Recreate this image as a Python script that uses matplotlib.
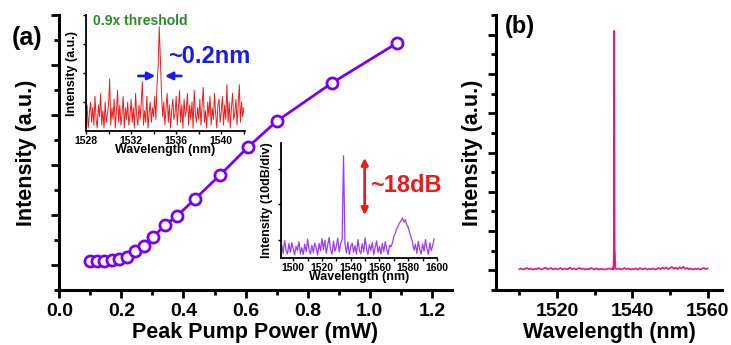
import numpy as np
import matplotlib
matplotlib.use("Agg")
import matplotlib.pyplot as plt
from matplotlib.ticker import MultipleLocator, NullFormatter

plt.rcParams['font.family'] = ['Liberation Sans', 'DejaVu Sans']
plt.rcParams['font.weight'] = 'bold'
plt.rcParams['axes.labelweight'] = 'bold'

# --- (a) main: output intensity vs peak pump power ---
pump_mw = [0.099, 0.121, 0.144, 0.170, 0.192, 0.218, 0.244, 0.273, 0.302,
           0.341, 0.379, 0.437, 0.518, 0.608, 0.701, 0.878, 1.088]
out_int = [1.17, 1.16, 1.16, 1.20, 1.24, 1.32, 1.56, 1.76, 2.12,
           2.60, 2.96, 3.64, 4.60, 5.72, 6.76, 8.28, 9.88]

# --- inset 1: spectrum below threshold (0.1 nm grid from 1528 nm) ---
sub_start, sub_step = 1528.0, 0.1
sub_int = [
    0.2, 0.9, 0.1, 0.6, 1.0, 0.3, 0.8, 0.2, 1.2, 0.4, 0.1, 0.9, 0.5, 1.3, 0.2, 0.7, 0.1, 1.0, 0.3, 0.6,
    0.9, 1.8, 0.2, 0.8, 0.4, 1.1, 0.1, 0.7, 1.4, 0.3, 0.9, 0.2, 0.6, 1.2, 0.1, 0.8, 0.4, 1.0, 0.2, 0.5,
    1.1, 0.3, 0.8, 0.1, 1.3, 0.5, 0.2, 0.9, 0.4, 1.0, 1.7, 0.2, 0.7, 0.3, 1.2, 0.1, 0.6, 1.0, 0.3, 0.8,
    0.5, 1.2, 0.4, 1.6, 2.2, 3.6, 2.4, 1.3, 0.5, 1.0, 0.2, 0.8, 1.3, 0.3, 0.9, 0.1, 0.7, 1.1, 0.4, 0.6,
    1.2, 0.2, 0.8, 1.4, 0.3, 0.9, 0.1, 1.1, 0.5, 0.7, 1.3, 0.2, 0.9, 0.4, 1.0, 0.1, 1.4, 0.6, 0.3, 0.8,
    0.4, 1.1, 0.2, 0.9, 1.5, 0.3, 0.7, 0.1, 1.0, 0.5, 1.2, 0.2, 0.8, 0.4, 1.3, 0.6, 0.1, 0.9, 1.1, 0.3,
    0.7, 1.2, 0.2, 0.9, 0.4, 1.6, 0.3, 1.0, 0.1, 0.8, 1.3, 0.4, 0.6, 1.1, 0.2, 0.9, 1.6, 0.3, 1.0, 0.5,
    0.8]

# --- inset 2: spectrum above threshold, dB (1 nm grid from 1492 nm) ---
las_start, las_step = 1492.0, 1.0
las_db = [
    -61.5, -63.8, -60.2, -62.9, -64.0, -61.0, -63.5, -60.8, -62.6, -64.2,
    -61.8, -63.0, -60.5, -63.9, -62.2, -64.1, -61.2, -63.3, -59.8, -62.8,
    -64.0, -61.5, -63.6, -60.9, -62.4, -64.3, -61.0, -63.1, -59.6, -62.7,
    -60.1, -63.8, -61.4, -59.3, -62.9, -64.0, -60.4, -63.2, -61.7, -59.5,
    -63.4, -61.0, -60.0, -36.3, -61.2, -63.7, -60.6, -64.1, -62.0, -60.9,
    -63.5, -61.6, -64.0, -59.9, -62.8, -63.9, -61.1, -63.4, -59.4, -62.5,
    -64.1, -61.3, -63.0, -60.7, -64.2, -62.1, -60.3, -63.6, -61.8, -64.0,
    -61.0, -63.3, -60.5, -62.6, -64.1, -61.5, -62.0, -60.8, -59.0, -58.2,
    -56.9, -56.0, -55.2, -54.6, -53.8, -55.0, -54.3, -55.8, -56.5, -58.0,
    -59.3, -60.6, -62.9, -61.2, -63.8, -60.4, -62.7, -64.0, -61.1, -63.2,
    -59.9, -62.4, -64.1, -60.8, -63.0, -61.6, -59.7]

# --- (b): single-mode lasing spectrum ---
b_start, b_step = 1510.0, 0.5
b_base = [
    0.03, 0.05, 0.02, 0.04, 0.06, 0.03, 0.05, 0.02, 0.04, 0.03,
    0.06, 0.04, 0.02, 0.05, 0.07, 0.03, 0.04, 0.06, 0.02, 0.05,
    0.03, 0.04, 0.06, 0.02, 0.05, 0.03, 0.04, 0.07, 0.03, 0.05,
    0.02, 0.04, 0.06, 0.03, 0.05, 0.02, 0.04, 0.03, 0.06, 0.04,
    0.03, 0.05, 0.02, 0.04, 0.03, 0.03, 0.02, 0.04, 0.05, 0.03,
    0.02, 0.06, 0.03, 0.05, 0.02, 0.04, 0.06, 0.03, 0.05, 0.02,
    0.04, 0.03, 0.05, 0.02, 0.06, 0.03, 0.04, 0.05, 0.02, 0.04,
    0.03, 0.05, 0.02, 0.04, 0.06, 0.03, 0.07, 0.04, 0.08, 0.03,
    0.06, 0.09, 0.04, 0.07, 0.03, 0.08, 0.05, 0.09, 0.04, 0.06,
    0.03, 0.05, 0.02, 0.04, 0.03, 0.05, 0.02, 0.04, 0.06, 0.03,
    0.05]
b_peak_wl = [1534.9, 1535.1, 1535.2, 1535.3, 1535.5]
b_peak_int = [0.08, 0.70, 6.10, 0.60, 0.05]

violet = '#7a00f5'

fig = plt.figure(figsize=(7.31, 3.45), dpi=100)

# ---------------- panel (a) ----------------
ax = fig.add_axes([0.0811, 0.1594, 0.5368, 0.797])
ax.plot(pump_mw, out_int, '-o', color=violet, lw=2, ms=8, mfc='white',
        mec=violet, mew=2, zorder=3)
ax.set_xlim(0, 1.264)
ax.set_ylim(0, 11)
ax.xaxis.set_major_locator(MultipleLocator(0.2))
ax.xaxis.set_minor_locator(MultipleLocator(0.1))
ax.set_yticks([1, 3, 5, 7, 9, 11])
ax.yaxis.set_minor_locator(MultipleLocator(1))
ax.yaxis.set_major_formatter(NullFormatter())
ax.xaxis.set_major_formatter(plt.FuncFormatter(lambda v, p: f'{v:.1f}'))
for s in ['top', 'right']:
    ax.spines[s].set_visible(False)
for s in ['left', 'bottom']:
    ax.spines[s].set_linewidth(2.2)
ax.tick_params(which='major', direction='out', length=6, width=2, labelsize=14, pad=3)
ax.tick_params(which='minor', direction='out', length=3.5, width=2)
ax.set_xlabel('Peak Pump Power (mW)', fontsize=15.5, labelpad=2)
ax.set_ylabel('Intensity (a.u.)', fontsize=15.5, labelpad=7)
fig.text(0.016, 0.87, '(a)', fontsize=18, fontweight='bold')

# ---------------- inset 1 ----------------
ins1 = fig.add_axes([0.1176, 0.6203, 0.2175, 0.336])
sub_wl = sub_start + sub_step * np.arange(len(sub_int))
ins1.plot(sub_wl, sub_int, color='#ee1c1c', lw=0.7)
ins1.set_xlim(1528, 1542.1)
ins1.set_ylim(0, 4)
ins1.set_xticks([1528, 1532, 1536, 1540])
ins1.xaxis.set_minor_locator(MultipleLocator(2))
ins1.set_yticks([1, 2, 3, 4])
ins1.yaxis.set_major_formatter(NullFormatter())
for s in ['top', 'right']:
    ins1.spines[s].set_visible(False)
for s in ['left', 'bottom']:
    ins1.spines[s].set_linewidth(1.3)
ins1.tick_params(which='both', direction='out', length=2.5, width=1, labelsize=7.5, pad=1)
ins1.set_xlabel('Wavelength (nm)', fontsize=9, labelpad=-1)
ins1.set_ylabel('Intensity (a.u.)', fontsize=9, labelpad=2)
ins1.patch.set_alpha(0)
ins1.annotate('', xy=(1534.4, 1.9), xytext=(1532.4, 1.9),
              arrowprops=dict(arrowstyle='-|>', color='#1a1af0', lw=2, mutation_scale=11))
ins1.annotate('', xy=(1534.75, 1.9), xytext=(1536.7, 1.9),
              arrowprops=dict(arrowstyle='-|>', color='#1a1af0', lw=2, mutation_scale=11))
ins1.text(1535.3, 2.35, '~0.2nm', color='#1a1af0', fontsize=17, fontweight='bold')
ins1.text(1528.6, 3.65, '0.9x threshold', color='#2a8a2a', fontsize=10, fontweight='bold')

# ---------------- inset 2 ----------------
ins2 = fig.add_axes([0.3844, 0.2522, 0.2134, 0.3333])
las_wl = las_start + las_step * np.arange(len(las_db))
ins2.plot(las_wl, las_db, color='#9a3cff', lw=0.9)
ins2.set_xlim(1491.5, 1600)
ins2.set_ylim(-65.1, -32.7)
ins2.set_xticks(np.arange(1500, 1601, 20))
ins2.xaxis.set_minor_locator(MultipleLocator(10))
ins2.set_yticks([-60, -50, -40])
ins2.yaxis.set_major_formatter(NullFormatter())
for s in ['top', 'right']:
    ins2.spines[s].set_visible(False)
for s in ['left', 'bottom']:
    ins2.spines[s].set_linewidth(1.3)
ins2.tick_params(which='both', direction='out', length=2.5, width=1, labelsize=7.5, pad=1)
ins2.set_xlabel('Wavelength (nm)', fontsize=9, labelpad=-1)
ins2.set_ylabel('Intensity (10dB/div)', fontsize=9, labelpad=2)
ins2.annotate('', xy=(1549.7, -36.1), xytext=(1549.7, -53.8),
              arrowprops=dict(arrowstyle='<|-|>', color='#e81c1c', lw=2, mutation_scale=10))
ins2.text(1553.5, -46.5, '~18dB', color='#e81c1c', fontsize=17, fontweight='bold')

# ---------------- panel (b) ----------------
bx = fig.add_axes([0.6785, 0.1594, 0.3092, 0.797])
b_wl = list(b_start + b_step * np.arange(len(b_base))) + b_peak_wl
b_int = list(b_base) + b_peak_int
order = np.argsort(b_wl)
b_wl = np.array(b_wl)[order]
b_int = np.array(b_int)[order]
bx.plot(b_wl, b_int, color='#ec1479', lw=1.2)
bx.set_xlim(1503.8, 1563.8)
bx.set_ylim(-0.5, 6.5)
bx.set_xticks([1520, 1540, 1560])
bx.xaxis.set_minor_locator(MultipleLocator(10))
bx.set_yticks(range(0, 7))
bx.yaxis.set_minor_locator(MultipleLocator(0.5))
bx.yaxis.set_major_formatter(NullFormatter())
for s in ['top', 'right']:
    bx.spines[s].set_visible(False)
for s in ['left', 'bottom']:
    bx.spines[s].set_linewidth(2.2)
bx.tick_params(which='major', direction='out', length=6, width=2, labelsize=14, pad=3)
bx.tick_params(which='minor', direction='out', length=3.5, width=2)
bx.set_xlabel('Wavelength (nm)', fontsize=15.5, labelpad=2)
bx.set_ylabel('Intensity (a.u.)', fontsize=15.5, labelpad=0)
fig.text(0.690, 0.905, '(b)', fontsize=17, fontweight='bold')

fig.savefig('out.png', dpi=100)
